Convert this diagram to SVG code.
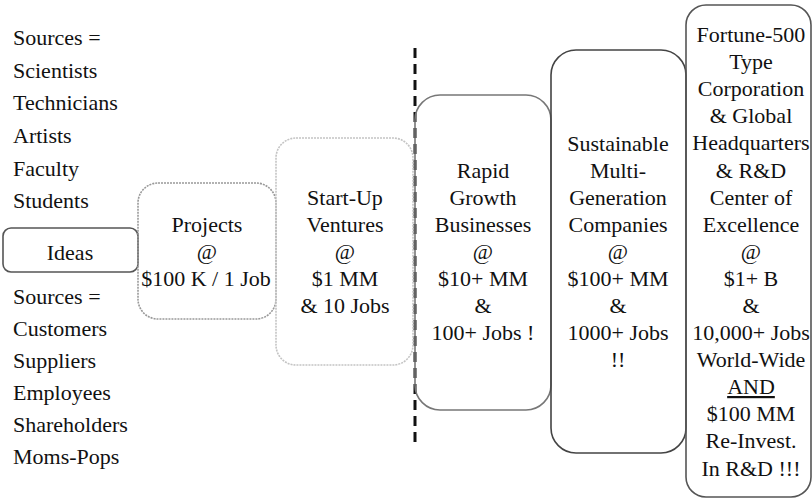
<svg xmlns="http://www.w3.org/2000/svg" width="812" height="499" viewBox="0 0 812 499" font-family="Liberation Serif, Times New Roman, serif" font-size="22">
<style>
text{fill:#111}
.c{text-anchor:middle}
.box{fill:none;stroke-width:1.6}
</style>
<rect width="812" height="499" fill="#fff"/>
<g id="sources-top">
<text x="13" y="45">Sources =</text>
<text x="13" y="78">Scientists</text>
<text x="13" y="110">Technicians</text>
<text x="13" y="143">Artists</text>
<text x="13" y="176">Faculty</text>
<text x="13" y="208">Students</text>
</g>
<g id="sources-bottom">
<text x="13" y="304">Sources =</text>
<text x="13" y="336">Customers</text>
<text x="13" y="368">Suppliers</text>
<text x="13" y="400">Employees</text>
<text x="13" y="432">Shareholders</text>
<text x="13" y="464">Moms-Pops</text>
</g>
<g id="connectors">
<line x1="415" y1="48" x2="415" y2="447" stroke="#111" stroke-width="3" stroke-dasharray="10 6"/>
</g>
<g id="ideas">
<rect class="box" x="3" y="228" width="135" height="44" rx="8" stroke="#555"/>
<text class="c" x="70" y="260">Ideas</text>
</g>
<g id="projects">
<rect class="box" x="138" y="183" width="138" height="136" rx="20" stroke="#999" stroke-dasharray="2 1"/>
<text class="c" x="207" y="232">Projects</text>
<text class="c" x="207" y="259">@</text>
<text class="c" x="206" y="286">$100 K / 1 Job</text>
</g>
<g id="startup">
<rect class="box" x="276" y="138" width="137" height="227" rx="20" stroke="#c4c4c4" stroke-dasharray="2 1"/>
<text class="c" x="345" y="205">Start-Up</text>
<text class="c" x="345" y="232">Ventures</text>
<text class="c" x="345" y="259">@</text>
<text class="c" x="345" y="286">$1 MM</text>
<text class="c" x="345" y="313">&amp; 10 Jobs</text>
</g>
<g id="rapid">
<rect class="box" x="415" y="95" width="136" height="315" rx="25" stroke="#777"/>
<text class="c" x="483" y="178">Rapid</text>
<text class="c" x="483" y="205">Growth</text>
<text class="c" x="483" y="232">Businesses</text>
<text class="c" x="483" y="259">@</text>
<text class="c" x="483" y="286">$10+ MM</text>
<text class="c" x="483" y="313">&amp;</text>
<text class="c" x="483" y="340">100+ Jobs !</text>
</g>
<g id="sustainable">
<rect class="box" x="551" y="50" width="135" height="403" rx="25" stroke="#444"/>
<text class="c" x="618" y="151">Sustainable</text>
<text class="c" x="618" y="178">Multi-</text>
<text class="c" x="618" y="205">Generation</text>
<text class="c" x="618" y="232">Companies</text>
<text class="c" x="618" y="259">@</text>
<text class="c" x="618" y="286">$100+ MM</text>
<text class="c" x="618" y="313">&amp;</text>
<text class="c" x="618" y="340">1000+ Jobs</text>
<text class="c" x="618" y="367">!!</text>
</g>
<g id="fortune">
<rect class="box" x="686" y="5" width="125" height="492" rx="20" stroke="#555"/>
<text class="c" x="751" y="42">Fortune-500</text>
<text class="c" x="751" y="69">Type</text>
<text class="c" x="751" y="96">Corporation</text>
<text class="c" x="751" y="123">&amp; Global</text>
<text class="c" x="751" y="150">Headquarters</text>
<text class="c" x="751" y="178">&amp; R&amp;D</text>
<text class="c" x="751" y="205">Center of</text>
<text class="c" x="751" y="232">Excellence</text>
<text class="c" x="751" y="259">@</text>
<text class="c" x="751" y="286">$1+ B</text>
<text class="c" x="751" y="313">&amp;</text>
<text class="c" x="751" y="340">10,000+ Jobs</text>
<text class="c" x="751" y="367">World-Wide</text>
<text class="c" x="751" y="394" text-decoration="underline">AND</text>
<text class="c" x="751" y="421">$100 MM</text>
<text class="c" x="751" y="448">Re-Invest.</text>
<text class="c" x="751" y="476">In R&amp;D !!!</text>
</g>
</svg>
